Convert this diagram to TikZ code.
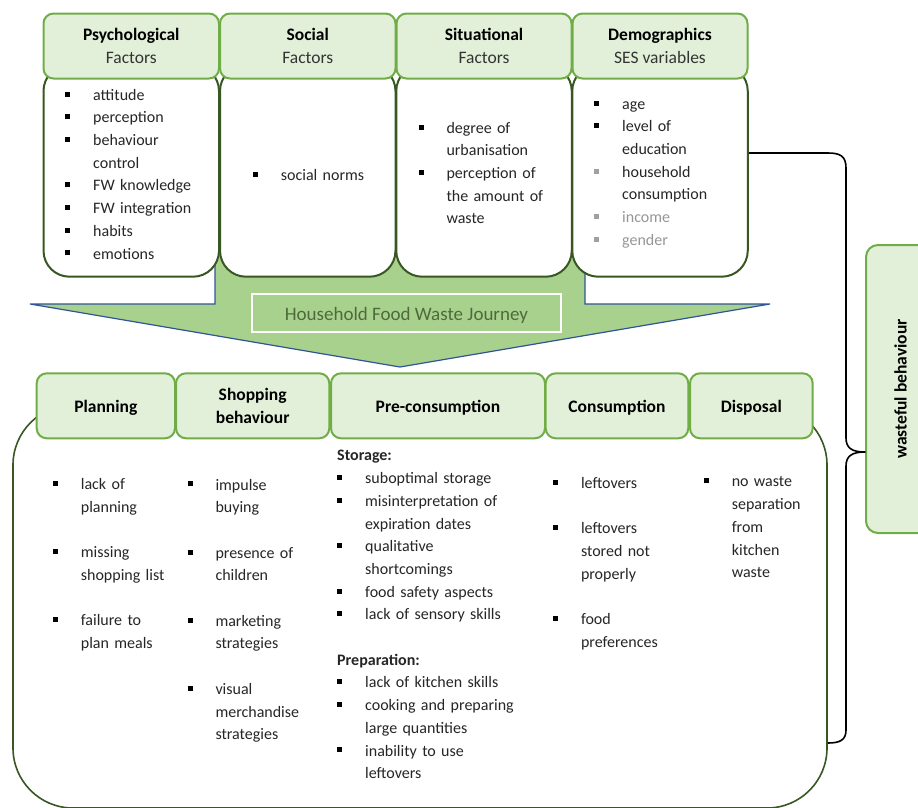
\documentclass[tikz,border=0pt]{standalone}
\usepackage{fontspec}
\setmainfont{Carlito}

\definecolor{hdrfill}{RGB}{226,240,217}
\definecolor{hdrline}{RGB}{112,173,71}
\definecolor{boxline}{RGB}{56,87,35}
\definecolor{arrowfill}{RGB}{169,209,142}
\definecolor{arrowline}{RGB}{47,85,151}
\definecolor{journeytxt}{RGB}{78,106,60}
\definecolor{bulgray}{RGB}{160,160,160}
\definecolor{txtgray}{RGB}{150,150,150}
\definecolor{txtdark}{RGB}{38,38,38}

\newcommand{\hstrut}{\vrule height 17.5pt depth 5.1pt width 0pt}
\newcommand{\hdrfont}{\fontsize{17.5}{22.6}\selectfont}
\newcommand{\listfont}{\fontsize{16}{22.7}\selectfont}
\newcommand{\bul}[1]{\textcolor{#1}{\rule[3.6pt]{5pt}{5pt}}}
\newcommand{\itm}[2][black]{\noindent\strut\makebox[28pt][l]{\bul{#1}}#2\par}
\newcommand{\cont}[1]{\noindent\strut\hspace*{28pt}#1\par}
\newcommand{\lgap}{\vspace{22.7pt}}
\newcommand{\lhead}[1]{\noindent\strut\textbf{#1}\par}

\tikzset{
  hdr/.style={draw=hdrline, fill=hdrfill, line width=2pt, rounded corners=10pt,
    minimum height=65pt, align=center, font=\hdrfont, inner sep=0pt},
  factorbox/.style={draw=boxline, fill=white, line width=2pt, rounded corners=26pt,
    minimum width=175.5pt, minimum height=211.7pt, inner sep=0pt},
  stagebox/.style={draw=boxline, fill=white, line width=1.6pt, rounded corners=60pt,
    minimum width=814pt, minimum height=403pt, inner sep=0pt},
  itemlist/.style={anchor=north west, inner sep=0pt, text width=#1, align=left,
    font=\listfont, text=txtdark},
  brace/.style={draw=black, line width=1.6pt, line join=round}
}

\begin{document}
\begin{tikzpicture}[x=1pt, y=-1pt]
\useasboundingbox (0,0) rectangle (918,807);

% big arrow behind the factor boxes
\fill[arrowfill] (215,150) -- (215,304) -- (30,304) -- (400,367) -- (770,304) -- (585,304) -- (585,150) -- cycle;
\draw[arrowline, line width=1.2pt] (215,150) -- (215,304) -- (30,304) -- (400,367) -- (770,304) -- (585,304) -- (585,150);
\node[draw=white, line width=2pt, minimum width=309pt, minimum height=38pt, inner sep=0pt,
  text height=17pt, text depth=3pt, font=\fontsize{19}{23}\selectfont, text=journeytxt]
  (journey) at (406.5,313) {Household Food Waste Journey};

% factor boxes
\node[factorbox] (psy) at (131.25,170.85) {};
\node[factorbox] (soc) at (307.75,170.85) {};
\node[factorbox] (sit) at (484,170.85) {};
\node[factorbox] (dem) at (660,170.85) {};
\node[hdr, minimum width=175.5pt] (psyhead) at (131.25,46) {\hstrut\textbf{Psychological}\\\hstrut\textcolor{black!80}{Factors}};
\node[hdr, minimum width=175.5pt] (sochead) at (307.75,46) {\hstrut\textbf{Social}\\\hstrut\textcolor{black!80}{Factors}};
\node[hdr, minimum width=175pt] (sithead) at (484,46) {\hstrut\textbf{Situational}\\\hstrut\textcolor{black!80}{Factors}};
\node[hdr, minimum width=175pt] (demhead) at (660,46) {\hstrut\textbf{Demographics}\\\hstrut\textcolor{black!80}{SES variables}};

\node[itemlist=150pt] (psylist) at (65,84.1) {\itm{attitude}\itm{perception}\itm{behaviour}\cont{control}\itm{FW knowledge}\itm{FW integration}\itm{habits}\itm{emotions}};
\node[itemlist=140pt] (soclist) at (252.7,164.1) {\itm{social norms}};
\node[itemlist=150pt] (sitlist) at (418.3,117.1) {\itm{degree of}\cont{urbanisation}\itm{perception of}\cont{the amount of}\cont{waste}};
\node[itemlist=150pt] (demlist) at (594,93.1) {\itm{age}\itm{level of}\cont{education}\itm[bulgray]{household}\cont{consumption}\itm[bulgray]{\textcolor{txtgray}{income}}\itm[bulgray]{\textcolor{txtgray}{gender}}};

% journey stages
\node[stagebox] (stages) at (420,606.5) {};
\node[hdr, minimum width=138.3pt] (planhead) at (105.85,405.8) {\hstrut\textbf{Planning}};
\node[hdr, minimum width=153.3pt] (shophead) at (252.65,405.8) {\hstrut\textbf{Shopping}\\\hstrut\textbf{behaviour}};
\node[hdr, minimum width=214pt] (prehead) at (438,405.8) {\hstrut\textbf{Pre-consumption}};
\node[hdr, minimum width=142.6pt] (conhead) at (617,405.8) {\hstrut\textbf{Consumption}};
\node[hdr, minimum width=122.7pt] (disphead) at (751.35,405.8) {\hstrut\textbf{Disposal}};

\node[itemlist=120pt] (planlist) at (52.7,473.4) {\itm{lack of}\cont{planning}\lgap\itm{missing}\cont{shopping list}\lgap\itm{failure to}\cont{plan meals}};
\node[itemlist=130pt] (shoplist) at (187.3,473.9) {\itm{impulse}\cont{buying}\lgap\itm{presence of}\cont{children}\lgap\itm{marketing}\cont{strategies}\lgap\itm{visual}\cont{merchandise}\cont{strategies}};
\node[itemlist=200pt] (prelist) at (337,444.8) {\lhead{Storage:}\itm{suboptimal storage}\itm{misinterpretation of}\cont{expiration dates}\itm{qualitative}\cont{shortcomings}\itm{food safety aspects}\itm{lack of sensory skills}\lgap\lhead{Preparation:}\itm{lack of kitchen skills}\itm{cooking and preparing}\cont{large quantities}\itm{inability to use}\cont{leftovers}};
\node[itemlist=130pt] (conlist) at (552.8,472.4) {\itm{leftovers}\lgap\itm{leftovers}\cont{stored not}\cont{properly}\lgap\itm{food}\cont{preferences}};
\node[itemlist=110pt] (displist) at (703.6,470.8) {\itm{no waste}\cont{separation}\cont{from}\cont{kitchen}\cont{waste}};

% outcome
\node[hdr, minimum width=69pt, minimum height=288pt, rounded corners=12pt] (wasteful) at (900.5,389) {\rotatebox{90}{\textbf{wasteful behaviour}}};
\draw[brace] (dem.east |- 0,153) -- (828,153) .. controls (840,153) and (846,156) .. (846,168)
  -- (846,438) .. controls (846,448) and (852,452) .. (wasteful.west |- 0,452)
  .. controls (852,452) and (846,456) .. (846,466)
  -- (846,730) .. controls (846,740) and (840,743) .. (stages.east |- 0,743);
\end{tikzpicture}
\end{document}
